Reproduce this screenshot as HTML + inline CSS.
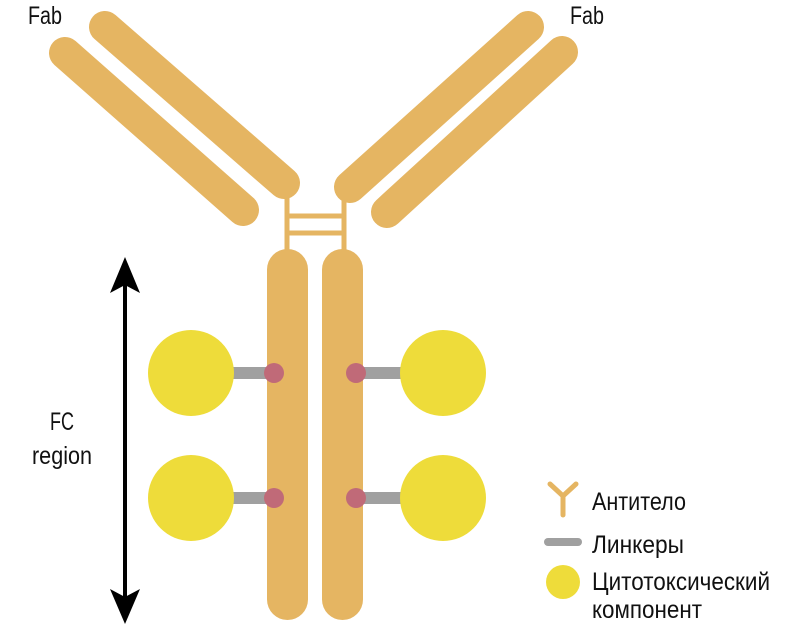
<!DOCTYPE html>
<html><head><meta charset="utf-8"><style>
html,body{margin:0;padding:0;background:#fff;}
svg{display:block;}
text{font-family:"Liberation Sans Narrow","Liberation Sans",sans-serif;fill:#111;}
</style></head><body>
<svg width="798" height="626" viewBox="0 0 798 626" xmlns="http://www.w3.org/2000/svg">
<g stroke="#E5B562" stroke-linecap="round" fill="none">
  <line x1="65" y1="53" x2="243" y2="210" stroke-width="32"/>
  <line x1="105" y1="27" x2="284" y2="183" stroke-width="32"/>
  <line x1="528" y1="27" x2="350" y2="187" stroke-width="32"/>
  <line x1="562" y1="52" x2="387" y2="212" stroke-width="32"/>
  <line x1="287" y1="190" x2="287" y2="260" stroke-width="5" stroke-linecap="butt"/>
  <line x1="344" y1="190" x2="344" y2="260" stroke-width="5" stroke-linecap="butt"/>
  <line x1="287" y1="216" x2="344" y2="216" stroke-width="5" stroke-linecap="butt"/>
  <line x1="287" y1="233" x2="344" y2="233" stroke-width="5" stroke-linecap="butt"/>
</g>
<rect x="267" y="249" width="41" height="371" rx="20.5" fill="#E5B562"/>
<rect x="322" y="249" width="41" height="371" rx="20.5" fill="#E5B562"/>
<g fill="#A0A0A0">
  <rect x="230" y="367" width="44" height="12"/>
  <rect x="230" y="492" width="44" height="12"/>
  <rect x="356" y="367" width="48" height="12"/>
  <rect x="356" y="492" width="48" height="12"/>
</g>
<g fill="#EEDC3A">
  <circle cx="191" cy="373" r="43"/>
  <circle cx="191" cy="498" r="43"/>
  <circle cx="443" cy="373" r="43"/>
  <circle cx="443" cy="498" r="43"/>
</g>
<g fill="#C06A78">
  <circle cx="274" cy="373" r="10"/>
  <circle cx="274" cy="498" r="10"/>
  <circle cx="356" cy="373" r="10"/>
  <circle cx="356" cy="498" r="10"/>
</g>
<line x1="125" y1="280" x2="125" y2="600" stroke="#000" stroke-width="4"/>
<polygon points="125,257 140,293 125,285 110,293" fill="#000"/>
<polygon points="125,624 140,589 125,597 110,589" fill="#000"/>
<text x="28" y="24" font-size="25" textLength="34" lengthAdjust="spacingAndGlyphs">Fab</text>
<text x="570" y="24" font-size="25" textLength="34" lengthAdjust="spacingAndGlyphs">Fab</text>
<text x="50" y="430" font-size="25" textLength="24" lengthAdjust="spacingAndGlyphs">FC</text>
<text x="32" y="464" font-size="25" textLength="60" lengthAdjust="spacingAndGlyphs">region</text>
<g stroke="#E5B562" stroke-width="5" stroke-linecap="round" fill="none">
  <polyline points="550,484 563,496 576,484"/>
  <line x1="563" y1="496" x2="563" y2="515"/>
</g>
<line x1="548" y1="542" x2="578" y2="542" stroke="#A0A0A0" stroke-width="8" stroke-linecap="round"/>
<circle cx="563" cy="582" r="17" fill="#EEDC3A"/>
<text x="592" y="510" font-size="25" textLength="94" lengthAdjust="spacingAndGlyphs">Антитело</text>
<text x="592" y="553" font-size="25" textLength="92" lengthAdjust="spacingAndGlyphs">Линкеры</text>
<text x="592" y="590" font-size="25" textLength="178" lengthAdjust="spacingAndGlyphs">Цитотоксический</text>
<text x="592" y="618" font-size="25" textLength="110" lengthAdjust="spacingAndGlyphs">компонент</text>
</svg>
</body></html>
